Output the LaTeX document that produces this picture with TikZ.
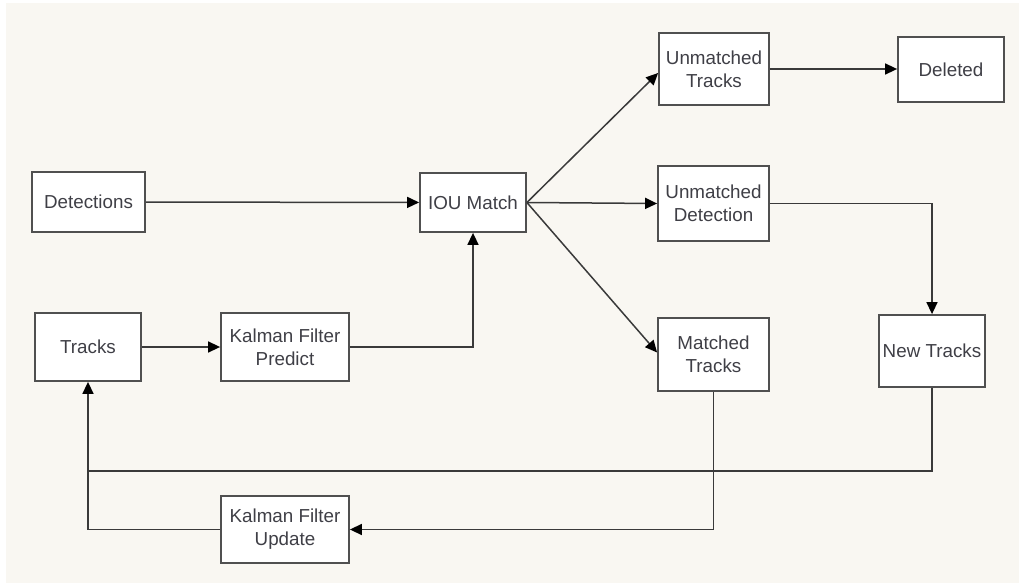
\documentclass[tikz,border=0pt]{standalone}
\usepackage{fontspec}
\setmainfont{Liberation Sans}
\usetikzlibrary{arrows.meta}
\definecolor{bgc}{HTML}{F9F7F2}
\definecolor{boxline}{HTML}{505050}
\definecolor{conn}{HTML}{3A3A3A}
\definecolor{txt}{HTML}{3F3F46}
\tikzset{
  blk/.style={draw=boxline, line width=1.8pt, fill=white, inner sep=0pt,
    align=center, text=txt, font=\fontsize{18.8}{23}\selectfont},
  wire/.style={draw=conn, line width=1.5pt},
  arr/.style={wire, -{Triangle[length=12pt,width=11pt,color=black]}}
}
\begin{document}
\begin{tikzpicture}[x=1pt,y=-1pt]
\useasboundingbox (0,0) rectangle (1019,583);
\fill[white] (0,0) rectangle (1019,583);
\fill[bgc] (6,3) rectangle (1019,583);

\node[blk, minimum width=113pt, minimum height=60pt] (det) at (88.5,202) {Detections};
\node[blk, minimum width=106pt, minimum height=59pt] (iou) at (473,202.5) {IOU Match};
\node[blk, minimum width=110pt, minimum height=72pt] (ut) at (714,69) {Unmatched\\Tracks};
\node[blk, minimum width=106pt, minimum height=65pt] (del) at (951,69.5) {Deleted};
\node[blk, minimum width=111pt, minimum height=75pt] (ud) at (713.5,203.5) {Unmatched\\Detection};
\node[blk, minimum width=111pt, minimum height=73pt] (mt) at (713.5,354.5) {Matched\\Tracks};
\node[blk, minimum width=106pt, minimum height=72pt] (nt) at (932,351) {New Tracks};
\node[blk, minimum width=106pt, minimum height=68pt] (tr) at (88,347) {Tracks};
\node[blk, minimum width=128pt, minimum height=68pt] (kfp) at (285,347) {Kalman Filter\\Predict};
\node[blk, minimum width=128pt, minimum height=67pt] (kfu) at (285,529.5) {Kalman Filter\\Update};

\coordinate (fb) at (0,471);

\draw[arr] (det) -- (iou);
\draw[arr] (tr) -- (kfp);
\draw[arr] (kfp.east) -| (iou.south);
\draw[arr] (iou.east) -- ([yshift=-4pt]ut.west);
\draw[arr] (iou.east) -- (ud.west);
\draw[arr] (iou.east) -- ([yshift=2pt]mt.west);
\draw[arr] (ut.east) -- (ut.east -| del.west);
\draw[arr] (ud.east) -| (nt.north);
\draw[arr] (nt.south) -- (nt.south |- fb) -| (tr.south);
\draw[arr] (mt.south) |- (kfu.east);
\draw[wire] (kfu.west) -| (tr.south |- fb);
\end{tikzpicture}
\end{document}
